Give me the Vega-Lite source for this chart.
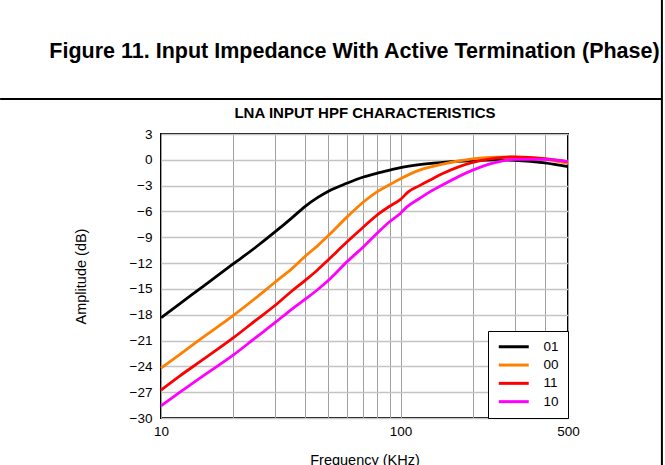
{
  "$schema": "https://vega.github.io/schema/vega-lite/v6.json",
  "autosize": {"type": "none"},
  "width": 407,
  "height": 284,
  "padding": {"left": 161, "top": 134, "right": 97, "bottom": 47},
  "background": "white",
  "title": {
    "text": "Figure 11. Input Impedance With Active Termination (Phase)",
    "fontSize": 21.5,
    "fontWeight": "bold",
    "font": "Liberation Sans",
    "color": "black",
    "anchor": "middle",
    "frame": "group",
    "baseline": "alphabetic",
    "dx": -10,
    "offset": -81
  },
  "config": {
    "font": "Liberation Sans",
    "view": {"stroke": "black", "strokeWidth": 2}
  },
  "resolve": {"axis": {"x": "independent", "y": "independent"}},
  "layer": [
    {
      "data": {
        "values": [
          {"f": 10, "dB": -18.35, "s": "01"}, {"f": 12, "dB": -16.7, "s": "01"}, {"f": 15, "dB": -14.7, "s": "01"}, {"f": 20, "dB": -12.1, "s": "01"}, {"f": 25, "dB": -10.1, "s": "01"}, {"f": 30, "dB": -8.35, "s": "01"}, {"f": 35, "dB": -6.8, "s": "01"}, {"f": 40, "dB": -5.4, "s": "01"}, {"f": 45, "dB": -4.4, "s": "01"}, {"f": 50, "dB": -3.65, "s": "01"}, {"f": 60, "dB": -2.7, "s": "01"}, {"f": 70, "dB": -2.0, "s": "01"}, {"f": 80, "dB": -1.55, "s": "01"}, {"f": 90, "dB": -1.2, "s": "01"}, {"f": 100, "dB": -0.9, "s": "01"}, {"f": 120, "dB": -0.55, "s": "01"}, {"f": 150, "dB": -0.3, "s": "01"}, {"f": 200, "dB": -0.1, "s": "01"}, {"f": 250, "dB": 0.0, "s": "01"}, {"f": 300, "dB": -0.05, "s": "01"}, {"f": 400, "dB": -0.35, "s": "01"}, {"f": 500, "dB": -0.8, "s": "01"},
          {"f": 10, "dB": -24.2, "s": "00"}, {"f": 12, "dB": -22.6, "s": "00"}, {"f": 15, "dB": -20.6, "s": "00"}, {"f": 20, "dB": -18.1, "s": "00"}, {"f": 25, "dB": -16.0, "s": "00"}, {"f": 30, "dB": -14.2, "s": "00"}, {"f": 35, "dB": -12.7, "s": "00"}, {"f": 40, "dB": -11.2, "s": "00"}, {"f": 45, "dB": -10.0, "s": "00"}, {"f": 50, "dB": -8.8, "s": "00"}, {"f": 60, "dB": -6.6, "s": "00"}, {"f": 70, "dB": -4.9, "s": "00"}, {"f": 80, "dB": -3.7, "s": "00"}, {"f": 90, "dB": -2.9, "s": "00"}, {"f": 100, "dB": -2.2, "s": "00"}, {"f": 120, "dB": -1.2, "s": "00"}, {"f": 150, "dB": -0.5, "s": "00"}, {"f": 200, "dB": 0.1, "s": "00"}, {"f": 250, "dB": 0.3, "s": "00"}, {"f": 300, "dB": 0.3, "s": "00"}, {"f": 400, "dB": 0.05, "s": "00"}, {"f": 500, "dB": -0.4, "s": "00"},
          {"f": 10, "dB": -26.75, "s": "11"}, {"f": 12, "dB": -25.1, "s": "11"}, {"f": 15, "dB": -23.2, "s": "11"}, {"f": 20, "dB": -20.7, "s": "11"}, {"f": 25, "dB": -18.6, "s": "11"}, {"f": 30, "dB": -16.9, "s": "11"}, {"f": 35, "dB": -15.3, "s": "11"}, {"f": 40, "dB": -14.0, "s": "11"}, {"f": 45, "dB": -12.8, "s": "11"}, {"f": 50, "dB": -11.6, "s": "11"}, {"f": 60, "dB": -9.5, "s": "11"}, {"f": 70, "dB": -7.8, "s": "11"}, {"f": 80, "dB": -6.4, "s": "11"}, {"f": 90, "dB": -5.4, "s": "11"}, {"f": 100, "dB": -4.6, "s": "11"}, {"f": 108, "dB": -3.7, "s": "11"}, {"f": 120, "dB": -3.0, "s": "11"}, {"f": 133, "dB": -2.35, "s": "11"}, {"f": 150, "dB": -1.6, "s": "11"}, {"f": 200, "dB": -0.3, "s": "11"}, {"f": 250, "dB": 0.2, "s": "11"}, {"f": 300, "dB": 0.35, "s": "11"}, {"f": 400, "dB": 0.15, "s": "11"}, {"f": 500, "dB": -0.2, "s": "11"},
          {"f": 10, "dB": -28.6, "s": "10"}, {"f": 12, "dB": -27.0, "s": "10"}, {"f": 15, "dB": -25.1, "s": "10"}, {"f": 20, "dB": -22.7, "s": "10"}, {"f": 25, "dB": -20.6, "s": "10"}, {"f": 30, "dB": -18.9, "s": "10"}, {"f": 35, "dB": -17.4, "s": "10"}, {"f": 40, "dB": -16.2, "s": "10"}, {"f": 45, "dB": -15.1, "s": "10"}, {"f": 50, "dB": -14.0, "s": "10"}, {"f": 60, "dB": -11.8, "s": "10"}, {"f": 70, "dB": -10.1, "s": "10"}, {"f": 80, "dB": -8.5, "s": "10"}, {"f": 90, "dB": -7.2, "s": "10"}, {"f": 100, "dB": -6.2, "s": "10"}, {"f": 106, "dB": -5.5, "s": "10"}, {"f": 120, "dB": -4.5, "s": "10"}, {"f": 133, "dB": -3.7, "s": "10"}, {"f": 150, "dB": -2.9, "s": "10"}, {"f": 200, "dB": -1.2, "s": "10"}, {"f": 250, "dB": -0.3, "s": "10"}, {"f": 300, "dB": 0.05, "s": "10"}, {"f": 400, "dB": 0.05, "s": "10"}, {"f": 500, "dB": -0.2, "s": "10"}
        ]
      },
      "mark": {"type": "line", "strokeWidth": 2.8, "interpolate": "monotone"},
      "encoding": {
        "x": {
          "field": "f",
          "type": "quantitative",
          "scale": {"type": "log", "domain": [10, 500], "nice": false},
          "axis": {
            "orient": "bottom",
            "title": "Frequency (KHz)",
            "titleFontSize": 14.5,
            "titleFontWeight": "normal",
            "titleColor": "black",
            "titlePadding": 16,
            "values": [10, 20, 30, 40, 50, 60, 70, 80, 90, 100, 200, 300, 400, 500],
            "labelExpr": "datum.value == 10 || datum.value == 100 || datum.value == 500 ? format(datum.value, 'd') : ''",
            "labelFontSize": 13.5,
            "labelColor": "black",
            "labelPadding": 6,
            "labelFlush": false,
            "labelOverlap": false,
            "ticks": false,
            "tickSize": 0,
            "domain": false,
            "grid": true,
            "gridColor": "#a0a0a0",
            "gridWidth": 1
          }
        },
        "y": {
          "field": "dB",
          "type": "quantitative",
          "scale": {"domain": [-30, 3], "nice": false, "zero": false},
          "axis": {
            "title": "Amplitude (dB)",
            "titleFontSize": 14.5,
            "titleFontWeight": "normal",
            "titleColor": "black",
            "titlePadding": 41,
            "values": [-30, -27, -24, -21, -18, -15, -12, -9, -6, -3, 0, 3],
            "labelFontSize": 13.5,
            "labelColor": "black",
            "labelPadding": 9,
            "labelOverlap": false,
            "labelFlush": false,
            "ticks": false,
            "tickSize": 0,
            "domain": false,
            "grid": true,
            "gridColor": "#c4c4c4",
            "gridWidth": 1.5
          }
        },
        "color": {
          "field": "s",
          "type": "nominal",
          "scale": {"domain": ["01", "00", "11", "10"], "range": ["#000000", "#ff8000", "#ff0000", "#ff00ff"]},
          "legend": {
            "title": null,
            "orient": "bottom-right",
            "offset": 0,
            "fillColor": "white",
            "strokeColor": "black",
            "padding": 9,
            "symbolType": "M-1,0H5",
            "symbolSize": 100,
            "symbolStrokeWidth": 3,
            "labelOffset": 33,
            "labelFontSize": 13.5,
            "labelColor": "black",
            "rowPadding": 3.3
          }
        }
      }
    },
    {
      "data": {"values": [{}]},
      "mark": {"type": "rule", "color": "black", "strokeWidth": 2},
      "encoding": {
        "x": {
          "datum": 2.13,
          "type": "quantitative",
          "axis": {
            "orient": "top",
            "title": "LNA INPUT HPF CHARACTERISTICS",
            "titleFontSize": 15,
            "titleFontWeight": "bold",
            "titleColor": "black",
            "titlePadding": 14,
            "labels": false,
            "ticks": false,
            "tickSize": 0,
            "domain": false,
            "grid": false
          }
        },
        "x2": {"datum": 1233},
        "y": {"datum": 7.07, "type": "quantitative", "axis": null}
      }
    },
    {
      "data": {"values": [{}]},
      "mark": {"type": "rule", "color": "black", "strokeWidth": 2},
      "encoding": {
        "x": {"datum": 1233, "type": "quantitative", "axis": null},
        "y": {"datum": 18.6, "type": "quantitative", "axis": null},
        "y2": {"datum": -35.5}
      }
    }
  ]
}
